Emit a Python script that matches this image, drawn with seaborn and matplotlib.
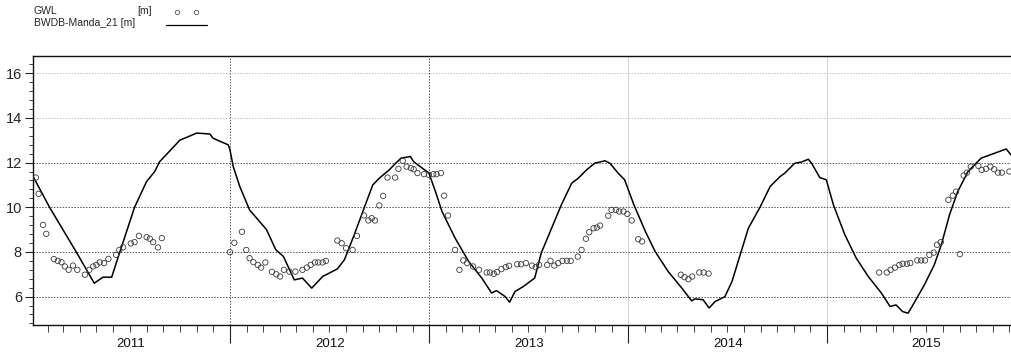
import pandas as pd
import matplotlib
matplotlib.use("Agg")
import matplotlib.pyplot as plt
import matplotlib.dates as mdates
from matplotlib.lines import Line2D
from matplotlib.ticker import MultipleLocator
import seaborn as sns

# simulated head, BWDB-Manda_21 [m]
sim_dates = [
    "2011-01-05", "2011-02-04", "2011-03-25", "2011-04-27", "2011-05-13", "2011-05-29",
    "2011-06-13", "2011-07-10", "2011-08-01", "2011-08-16", "2011-08-25", "2011-10-01",
    "2011-11-01", "2011-11-25", "2011-12-01", "2011-12-29", "2012-01-01", "2012-01-07",
    "2012-01-19", "2012-02-06", "2012-03-08", "2012-03-25", "2012-04-08", "2012-04-28",
    "2012-05-13", "2012-05-30", "2012-06-19", "2012-07-16", "2012-07-29", "2012-08-16",
    "2012-09-03", "2012-09-19", "2012-10-01", "2012-10-19", "2012-10-31", "2012-11-10",
    "2012-11-27", "2012-12-03", "2012-12-31", "2013-01-12", "2013-01-24", "2013-02-17",
    "2013-03-14", "2013-04-07", "2013-04-25", "2013-05-04", "2013-05-20", "2013-05-28",
    "2013-06-07", "2013-06-22", "2013-07-13", "2013-07-25", "2013-08-13", "2013-08-31",
    "2013-09-19", "2013-10-01", "2013-10-16", "2013-10-31", "2013-11-19", "2013-11-28",
    "2013-12-13", "2013-12-25", "2014-01-11", "2014-02-01", "2014-02-19", "2014-03-15",
    "2014-04-09", "2014-04-27", "2014-05-03", "2014-05-18", "2014-05-29", "2014-06-09",
    "2014-06-27", "2014-07-10", "2014-07-25", "2014-08-09", "2014-08-31", "2014-09-18",
    "2014-10-06", "2014-10-15", "2014-11-02", "2014-11-14", "2014-11-27", "2014-12-03",
    "2014-12-18", "2014-12-30", "2015-01-12", "2015-02-02", "2015-02-23", "2015-03-17",
    "2015-04-10", "2015-04-26", "2015-05-07", "2015-05-19", "2015-05-29", "2015-06-07",
    "2015-06-28", "2015-07-16", "2015-07-29", "2015-08-13", "2015-08-28", "2015-09-16",
    "2015-10-10", "2015-11-04", "2015-11-25", "2015-12-04",
]
sim_values = [
    11.37, 10.0, 8.0, 6.6, 6.87, 6.87,
    8.0, 10.0, 11.15, 11.6, 12.04, 13.0,
    13.32, 13.28, 13.09, 12.79, 12.57, 11.82,
    10.93, 9.88, 9.0, 8.1, 7.8, 6.75,
    6.83, 6.38, 6.9, 7.24, 7.65, 8.77,
    9.96, 11.0, 11.3, 11.67, 11.97, 12.2,
    12.27, 12.04, 11.53, 10.7, 9.81, 8.62,
    7.57, 6.83, 6.16, 6.27, 6.0, 5.75,
    6.23, 6.45, 6.83, 7.95, 9.06, 10.11,
    11.08, 11.3, 11.67, 11.97, 12.08, 11.97,
    11.53, 11.23, 10.11, 8.92, 8.02, 7.12,
    6.38, 5.81, 5.9, 5.86, 5.49, 5.78,
    6.0, 6.68, 7.87, 9.06, 10.03, 10.93,
    11.37, 11.53, 11.97, 12.02, 12.15, 11.97,
    11.33, 11.23, 10.11, 8.77, 7.72, 6.9,
    6.16, 5.56, 5.63, 5.33, 5.26, 5.63,
    6.53, 7.42, 8.32, 9.66, 10.7, 11.6,
    12.2, 12.42, 12.61, 12.34,
]

# observed GWL [m]
obs_dates = [
    "2011-01-10", "2011-01-15", "2011-01-23", "2011-01-29", "2011-02-12", "2011-02-19",
    "2011-02-26", "2011-03-04", "2011-03-11", "2011-03-19", "2011-03-27", "2011-04-10",
    "2011-04-18", "2011-04-25", "2011-05-01", "2011-05-07", "2011-05-15", "2011-05-23",
    "2011-06-06", "2011-06-12", "2011-06-19", "2011-07-03", "2011-07-10", "2011-07-18",
    "2011-08-01", "2011-08-07", "2011-08-13", "2011-08-22", "2011-08-29",
    "2012-01-01", "2012-01-09", "2012-01-23", "2012-01-31", "2012-02-06", "2012-02-13",
    "2012-02-21", "2012-02-27", "2012-03-06", "2012-03-18", "2012-03-26", "2012-04-02",
    "2012-04-09", "2012-04-19", "2012-04-30", "2012-05-13", "2012-05-21", "2012-05-28",
    "2012-06-05", "2012-06-11", "2012-06-19", "2012-06-25", "2012-07-16", "2012-07-24",
    "2012-08-01", "2012-08-13", "2012-08-21", "2012-09-03", "2012-09-11", "2012-09-17",
    "2012-09-23", "2012-10-01", "2012-10-08", "2012-10-16", "2012-10-30", "2012-11-05",
    "2012-11-13", "2012-11-20", "2012-11-28", "2012-12-03", "2012-12-10", "2012-12-22",
    "2012-12-31", "2013-01-08", "2013-01-14", "2013-01-22", "2013-01-28", "2013-02-04",
    "2013-02-17", "2013-02-25", "2013-03-04", "2013-03-11", "2013-03-22", "2013-04-02",
    "2013-04-16", "2013-04-22", "2013-04-29", "2013-05-05", "2013-05-13", "2013-05-21",
    "2013-05-27", "2013-06-11", "2013-06-18", "2013-06-27", "2013-07-08", "2013-07-15",
    "2013-07-21", "2013-08-05", "2013-08-11", "2013-08-18", "2013-08-25", "2013-09-02",
    "2013-09-10", "2013-09-17", "2013-09-30", "2013-10-07", "2013-10-15", "2013-10-21",
    "2013-10-29", "2013-11-04", "2013-11-10", "2013-11-25", "2013-12-01", "2013-12-09",
    "2013-12-15", "2013-12-23", "2013-12-30", "2014-01-07", "2014-01-19", "2014-01-26",
    "2014-04-07", "2014-04-14", "2014-04-21", "2014-04-28", "2014-05-11", "2014-05-19",
    "2014-05-28",
    "2015-04-06", "2015-04-20", "2015-04-27", "2015-05-05", "2015-05-13", "2015-05-19",
    "2015-05-27", "2015-06-02", "2015-06-15", "2015-06-22", "2015-06-29", "2015-07-07",
    "2015-07-15", "2015-07-21", "2015-07-28", "2015-08-11", "2015-08-19", "2015-08-25",
    "2015-09-01", "2015-09-08", "2015-09-14", "2015-09-21", "2015-10-05", "2015-10-11",
    "2015-10-19", "2015-10-27", "2015-11-03", "2015-11-10", "2015-11-17", "2015-12-01",
]
obs_values = [
    11.33, 10.6, 9.21, 8.81, 7.68, 7.6,
    7.54, 7.35, 7.2, 7.39, 7.2, 6.98,
    7.2, 7.35, 7.42, 7.53, 7.5, 7.69,
    7.87, 8.09, 8.21, 8.38, 8.44, 8.72,
    8.66, 8.59, 8.44, 8.2, 8.62,
    7.99, 8.41, 8.9, 8.09, 7.72, 7.54,
    7.42, 7.3, 7.53, 7.11, 7.0, 6.9,
    7.2, 7.12, 7.12, 7.2, 7.3, 7.42,
    7.53, 7.53, 7.53, 7.6, 8.51, 8.39,
    8.17, 8.09, 8.72, 9.63, 9.41, 9.51,
    9.41, 10.08, 10.51, 11.33, 11.33, 11.72,
    12.08, 11.82, 11.75, 11.7, 11.53, 11.48,
    11.45, 11.48, 11.48, 11.53, 10.52, 9.63,
    8.09, 7.2, 7.62, 7.5, 7.35, 7.2,
    7.08, 7.08, 7.02, 7.1, 7.23, 7.32,
    7.38, 7.45, 7.45, 7.5, 7.39, 7.32,
    7.42, 7.42, 7.6, 7.39, 7.5, 7.6,
    7.6, 7.6, 7.79, 8.09, 8.59, 8.88,
    9.06, 9.09, 9.18, 9.62, 9.88, 9.88,
    9.81, 9.81, 9.7, 9.41, 8.57, 8.47,
    6.98, 6.87, 6.78, 6.9, 7.08, 7.08,
    7.03,
    7.08, 7.08, 7.2, 7.3, 7.42, 7.47,
    7.47, 7.5, 7.62, 7.62, 7.62, 7.87,
    7.97, 8.32, 8.44, 10.33, 10.52, 10.7,
    7.9, 11.42, 11.55, 11.82, 11.85, 11.67,
    11.72, 11.82, 11.7, 11.55, 11.55, 11.6,
]

year_labels = ["2011", "2012", "2013", "2014", "2015"]

sim = pd.DataFrame({"date": pd.to_datetime(sim_dates), "head": sim_values})
obs = pd.DataFrame({"date": pd.to_datetime(obs_dates), "head": obs_values})

sns.set_style("white")
plt.rcParams["font.family"] = ["Liberation Sans", "DejaVu Sans"]

fig = plt.figure(figsize=(10.11, 3.56), dpi=100)
ax = fig.add_axes([33 / 1011, 1 - 325 / 356, (1016 - 33) / 1011, (325 - 56) / 356])

sns.lineplot(data=sim, x="date", y="head", color="black", linewidth=1.1, ax=ax)
sns.scatterplot(data=obs, x="date", y="head", marker="o", facecolor="none",
                edgecolor="#3a3a3a", linewidth=0.6, s=15, ax=ax, zorder=3)

ax.set_xlim(pd.Timestamp("2011-01-04 16:00"), pd.Timestamp("2015-12-13"))
ax.set_ylim(4.73, 16.77)
ax.set_xlabel("")
ax.set_ylabel("")

# y ticks
ax.yaxis.set_major_locator(MultipleLocator(2))
ax.yaxis.set_minor_locator(MultipleLocator(0.4))
ax.set_ylim(4.73, 16.77)
ax.tick_params(axis="y", which="major", direction="out", length=6, width=0.8,
               labelsize=10.5, left=True, pad=2, color="#222222")
ax.tick_params(axis="y", which="minor", direction="out", length=3, width=0.6,
               left=True, color="#222222")

# x ticks: long at year bounds, short at months, labels in the middle of each year
ax.xaxis.set_major_locator(mdates.YearLocator())
ax.xaxis.set_minor_locator(mdates.MonthLocator())
ax.xaxis.set_major_formatter(plt.NullFormatter())
ax.tick_params(axis="x", which="major", direction="out", length=13, width=0.8,
               bottom=True, color="#222222")
ax.tick_params(axis="x", which="minor", direction="out", length=5, width=0.6,
               bottom=True, color="#222222")
for lab in year_labels:
    ax.text(pd.Timestamp(lab + "-07-02"), -0.072, lab, transform=ax.get_xaxis_transform(),
            ha="center", va="center", fontsize=9.5, color="#111111")

# grid
ax.grid(True, which="major", axis="both", linestyle=(0, (1.5, 1.5)), linewidth=0.7, color="#555555")
for gl, val in zip(ax.get_ygridlines(), ax.get_yticks()):
    if val >= 14:
        gl.set_color("#a9c7c7")
for gl, val in zip(ax.get_xgridlines(), ax.get_xticks()):
    if mdates.num2date(val).year >= 2014:
        gl.set_color("#c8c8c8")
        gl.set_linestyle("-")
        gl.set_linewidth(0.6)

for side in ["left", "bottom", "top", "right"]:
    ax.spines[side].set_color("#111111")
    ax.spines[side].set_linewidth(1.0)

# legend drawn like the original header
fig.text(34 / 1011, 1 - 11 / 356, "GWL", fontsize=7.5, va="center", ha="left")
fig.text(137 / 1011, 1 - 11 / 356, "[m]", fontsize=7.5, va="center", ha="left")
fig.text(34 / 1011, 1 - 23 / 356, "BWDB-Manda_21 [m]", fontsize=7.5, va="center", ha="left")
fig.add_artist(Line2D([177 / 1011, 196 / 1011], [1 - 12 / 356, 1 - 12 / 356], linestyle="none",
                      marker="o", markersize=3.2, markerfacecolor="none",
                      markeredgecolor="#555555", markeredgewidth=0.6))
fig.add_artist(Line2D([166 / 1011, 207 / 1011], [1 - 25 / 356, 1 - 25 / 356],
                      color="black", linewidth=0.9))

fig.savefig("out.png", dpi=100)
